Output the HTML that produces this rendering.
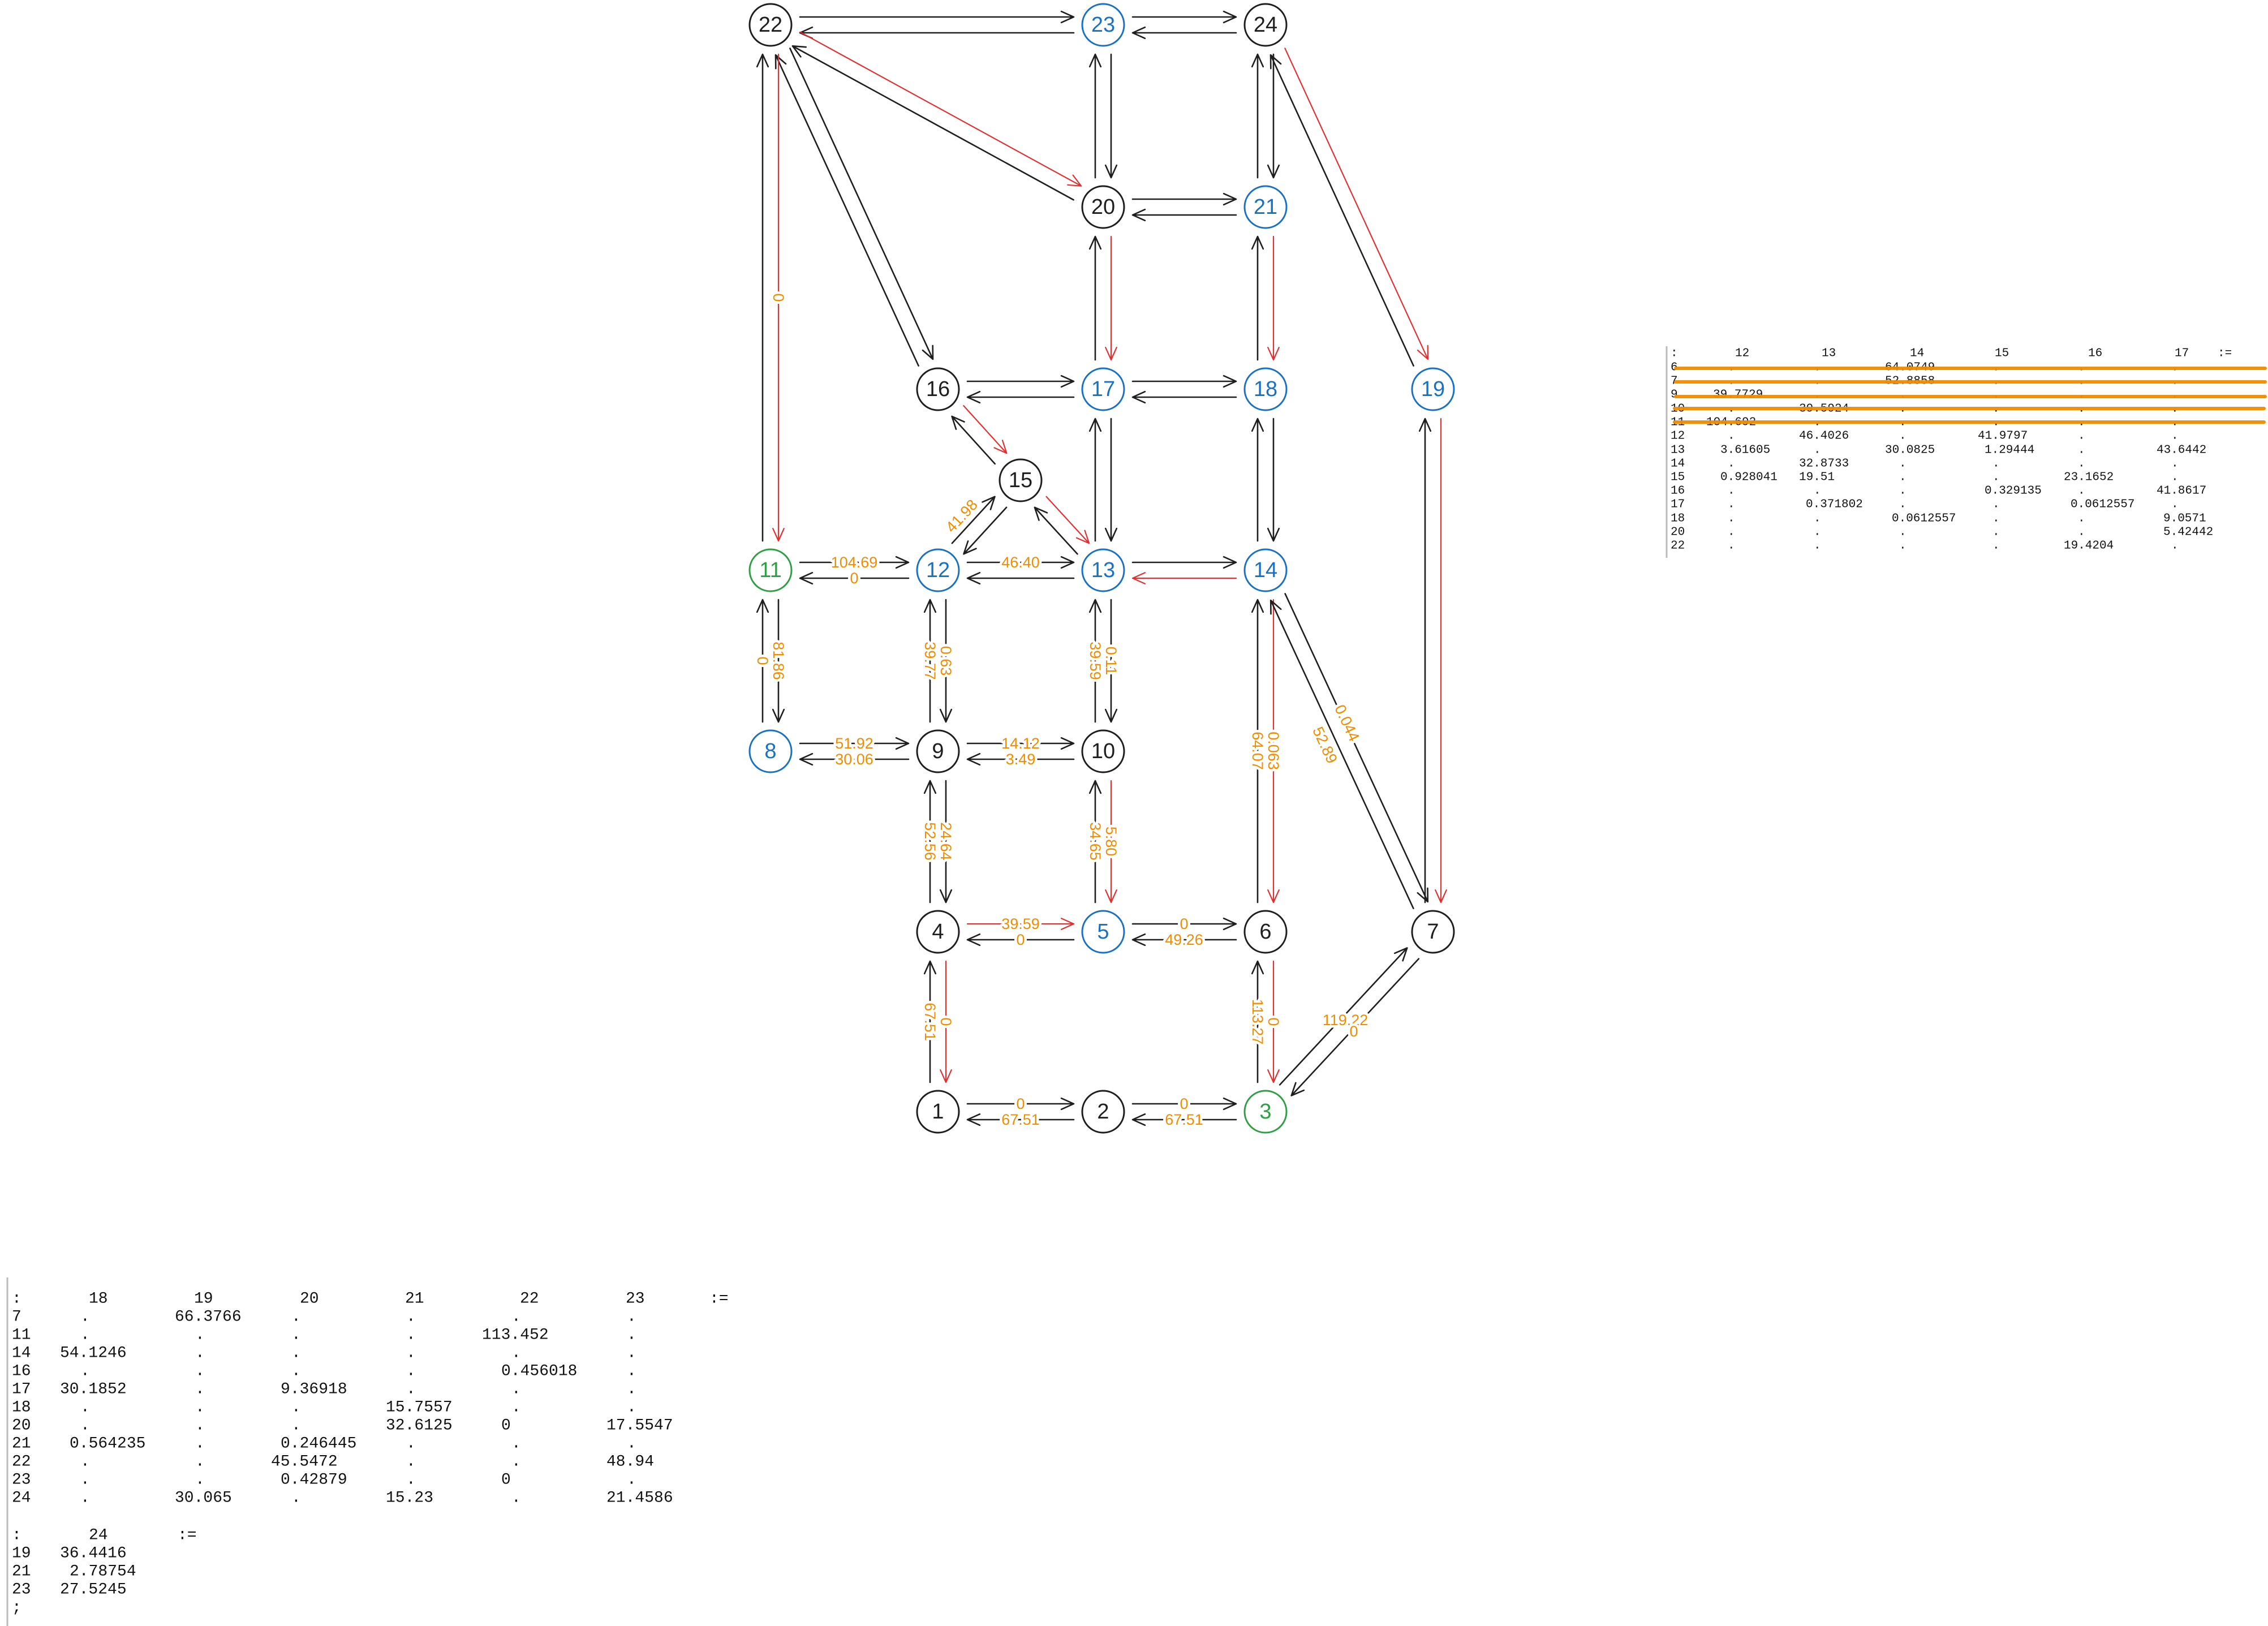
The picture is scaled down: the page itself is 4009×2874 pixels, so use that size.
<!DOCTYPE html>
<html><head><meta charset="utf-8">
<style>
html,body{margin:0;padding:0;background:#fff;}
svg{display:block;}
.nl{font-family:"Liberation Sans",sans-serif;font-size:38px;text-anchor:middle;dominant-baseline:central;}
.el{font-family:"Liberation Sans",sans-serif;font-size:27px;fill:#f08c00;text-anchor:middle;dominant-baseline:central;stroke:#fff;stroke-width:9px;paint-order:stroke;stroke-linejoin:round;}
.t1{font-family:"Liberation Mono","DejaVu Sans Mono",monospace;font-size:21px;fill:#111;dominant-baseline:central;}
.t2{font-family:"Liberation Mono","DejaVu Sans Mono",monospace;font-size:28px;fill:#111;dominant-baseline:central;}
</style></head>
<body>
<svg id="s" width="4009" height="2874" viewBox="0 0 4009 2874" xmlns="http://www.w3.org/2000/svg">
<g id="edges" fill="none" stroke-linecap="round"></g>

<!-- nodes -->
<g stroke-width="3" fill="#fff">
<circle cx="1362" cy="44" r="37" stroke="#1e1e1e"/>
<circle cx="1950" cy="44" r="37" stroke="#1971c2"/>
<circle cx="2237" cy="44" r="37" stroke="#1e1e1e"/>
<circle cx="1950" cy="366" r="37" stroke="#1e1e1e"/>
<circle cx="2237" cy="366" r="37" stroke="#1971c2"/>
<circle cx="1658" cy="688" r="37" stroke="#1e1e1e"/>
<circle cx="1950" cy="688" r="37" stroke="#1971c2"/>
<circle cx="2237" cy="688" r="37" stroke="#1971c2"/>
<circle cx="2533" cy="688" r="37" stroke="#1971c2"/>
<circle cx="1804" cy="849" r="37" stroke="#1e1e1e"/>
<circle cx="1362" cy="1008" r="37" stroke="#2f9e44"/>
<circle cx="1658" cy="1008" r="37" stroke="#1971c2"/>
<circle cx="1950" cy="1008" r="37" stroke="#1971c2"/>
<circle cx="2237" cy="1008" r="37" stroke="#1971c2"/>
<circle cx="1362" cy="1328" r="37" stroke="#1971c2"/>
<circle cx="1658" cy="1328" r="37" stroke="#1e1e1e"/>
<circle cx="1950" cy="1328" r="37" stroke="#1e1e1e"/>
<circle cx="1658" cy="1647" r="37" stroke="#1e1e1e"/>
<circle cx="1950" cy="1647" r="37" stroke="#1971c2"/>
<circle cx="2237" cy="1647" r="37" stroke="#1e1e1e"/>
<circle cx="2533" cy="1647" r="37" stroke="#1e1e1e"/>
<circle cx="1658" cy="1965" r="37" stroke="#1e1e1e"/>
<circle cx="1950" cy="1965" r="37" stroke="#1e1e1e"/>
<circle cx="2237" cy="1965" r="37" stroke="#2f9e44"/>
</g>
<g class="nl">
<text x="1362" y="44" fill="#1e1e1e">22</text>
<text x="1950" y="44" fill="#1971c2">23</text>
<text x="2237" y="44" fill="#1e1e1e">24</text>
<text x="1950" y="366" fill="#1e1e1e">20</text>
<text x="2237" y="366" fill="#1971c2">21</text>
<text x="1658" y="688" fill="#1e1e1e">16</text>
<text x="1950" y="688" fill="#1971c2">17</text>
<text x="2237" y="688" fill="#1971c2">18</text>
<text x="2533" y="688" fill="#1971c2">19</text>
<text x="1804" y="849" fill="#1e1e1e">15</text>
<text x="1362" y="1008" fill="#2f9e44">11</text>
<text x="1658" y="1008" fill="#1971c2">12</text>
<text x="1950" y="1008" fill="#1971c2">13</text>
<text x="2237" y="1008" fill="#1971c2">14</text>
<text x="1362" y="1328" fill="#1971c2">8</text>
<text x="1658" y="1328" fill="#1e1e1e">9</text>
<text x="1950" y="1328" fill="#1e1e1e">10</text>
<text x="1658" y="1647" fill="#1e1e1e">4</text>
<text x="1950" y="1647" fill="#1971c2">5</text>
<text x="2237" y="1647" fill="#1e1e1e">6</text>
<text x="2533" y="1647" fill="#1e1e1e">7</text>
<text x="1658" y="1965" fill="#1e1e1e">1</text>
<text x="1950" y="1965" fill="#1e1e1e">2</text>
<text x="2237" y="1965" fill="#2f9e44">3</text>
</g>

<!-- edge labels -->
<g class="el">
<text x="1510" y="994">104.69</text>
<text x="1510" y="1022">0</text>
<text x="1804" y="994">46.40</text>
<text x="1510" y="1314">51.92</text>
<text x="1510" y="1342">30.06</text>
<text x="1804" y="1314">14.12</text>
<text x="1804" y="1342">3.49</text>
<text x="1804" y="1633">39.59</text>
<text x="1804" y="1661">0</text>
<text x="2093" y="1633">0</text>
<text x="2093" y="1661">49.26</text>
<text x="1804" y="1951">0</text>
<text x="1804" y="1979">67.51</text>
<text x="2093" y="1951">0</text>
<text x="2093" y="1979">67.51</text>
<text transform="translate(1376,1168) rotate(90)">81.86</text>
<text transform="translate(1348,1168) rotate(90)">0</text>
<text transform="translate(1672,1168) rotate(90)">0.63</text>
<text transform="translate(1644,1168) rotate(90)">39.77</text>
<text transform="translate(1964,1168) rotate(90)">0.11</text>
<text transform="translate(1936,1168) rotate(90)">39.59</text>
<text transform="translate(1672,1487) rotate(90)">24.64</text>
<text transform="translate(1644,1487) rotate(90)">52.56</text>
<text transform="translate(1964,1487) rotate(90)">5.80</text>
<text transform="translate(1936,1487) rotate(90)">34.65</text>
<text transform="translate(1672,1806) rotate(90)">0</text>
<text transform="translate(1644,1806) rotate(90)">67.51</text>
<text transform="translate(2251,1806) rotate(90)">0</text>
<text transform="translate(2223,1806) rotate(90)">113.27</text>
<text transform="translate(2251,1327) rotate(90)">0.063</text>
<text transform="translate(2223,1327) rotate(90)">64.07</text>
<text transform="translate(1376,526) rotate(90)">0</text>
<text transform="translate(1700,912) rotate(-47)">41.98</text>
<text transform="translate(2381,1278) rotate(65)">0.044</text>
<text transform="translate(2342,1317) rotate(65)">52.89</text>
<text x="2378" y="1803">119.22</text>
<text x="2393" y="1823">0</text>
</g>

<!-- right table -->
<line x1="2946" y1="612" x2="2946" y2="986" stroke="#bbb" stroke-width="3"/>
<g class="t1">
<text x="2953" y="625">:</text><text x="3067" y="625">12</text><text x="3220" y="625">13</text><text x="3376" y="625">14</text><text x="3526" y="625">15</text><text x="3691" y="625">16</text><text x="3844" y="625">17</text><text x="3920" y="625">:=</text>
<text x="2953" y="650">6</text><text x="3054" y="650">.</text><text x="3206" y="650">.</text><text x="3332" y="650">64.0749</text><text x="3522" y="650">.</text><text x="3673" y="650">.</text><text x="3838" y="650">.</text>
<text x="2953" y="674">7</text><text x="3054" y="674">.</text><text x="3206" y="674">.</text><text x="3332" y="674">52.8858</text><text x="3522" y="674">.</text><text x="3673" y="674">.</text><text x="3838" y="674">.</text>
<text x="2953" y="698">9</text><text x="3028" y="698">39.7729</text><text x="3206" y="698">.</text><text x="3357" y="698">.</text><text x="3522" y="698">.</text><text x="3673" y="698">.</text><text x="3838" y="698">.</text>
<text x="2953" y="723">10</text><text x="3054" y="723">.</text><text x="3180" y="723">39.5924</text><text x="3357" y="723">.</text><text x="3522" y="723">.</text><text x="3673" y="723">.</text><text x="3838" y="723">.</text>
<text x="2953" y="747">11</text><text x="3016" y="747">104.692</text><text x="3206" y="747">.</text><text x="3357" y="747">.</text><text x="3522" y="747">.</text><text x="3673" y="747">.</text><text x="3838" y="747">.</text>
<text x="2953" y="771">12</text><text x="3054" y="771">.</text><text x="3180" y="771">46.4026</text><text x="3357" y="771">.</text><text x="3496" y="771">41.9797</text><text x="3673" y="771">.</text><text x="3838" y="771">.</text>
<text x="2953" y="796">13</text><text x="3041" y="796">3.61605</text><text x="3206" y="796">.</text><text x="3332" y="796">30.0825</text><text x="3508" y="796">1.29444</text><text x="3673" y="796">.</text><text x="3812" y="796">43.6442</text>
<text x="2953" y="820">14</text><text x="3054" y="820">.</text><text x="3180" y="820">32.8733</text><text x="3357" y="820">.</text><text x="3522" y="820">.</text><text x="3673" y="820">.</text><text x="3838" y="820">.</text>
<text x="2953" y="844">15</text><text x="3041" y="844">0.928041</text><text x="3180" y="844">19.51</text><text x="3357" y="844">.</text><text x="3522" y="844">.</text><text x="3648" y="844">23.1652</text><text x="3838" y="844">.</text>
<text x="2953" y="868">16</text><text x="3054" y="868">.</text><text x="3206" y="868">.</text><text x="3357" y="868">.</text><text x="3508" y="868">0.329135</text><text x="3673" y="868">.</text><text x="3812" y="868">41.8617</text>
<text x="2953" y="892">17</text><text x="3054" y="892">.</text><text x="3192" y="892">0.371802</text><text x="3357" y="892">.</text><text x="3522" y="892">.</text><text x="3660" y="892">0.0612557</text><text x="3838" y="892">.</text>
<text x="2953" y="917">18</text><text x="3054" y="917">.</text><text x="3206" y="917">.</text><text x="3344" y="917">0.0612557</text><text x="3522" y="917">.</text><text x="3673" y="917">.</text><text x="3824" y="917">9.0571</text>
<text x="2953" y="941">20</text><text x="3054" y="941">.</text><text x="3206" y="941">.</text><text x="3357" y="941">.</text><text x="3522" y="941">.</text><text x="3673" y="941">.</text><text x="3824" y="941">5.42442</text>
<text x="2953" y="965">22</text><text x="3054" y="965">.</text><text x="3206" y="965">.</text><text x="3357" y="965">.</text><text x="3522" y="965">.</text><text x="3648" y="965">19.4204</text><text x="3838" y="965">.</text>
</g>
<g stroke="#f08c00" stroke-width="6" stroke-linecap="round" opacity="0.95">
<line x1="2962" y1="651" x2="4004" y2="651"/>
<line x1="2962" y1="675" x2="4004" y2="675"/>
<line x1="2962" y1="701" x2="4004" y2="701"/>
<line x1="2960" y1="722" x2="4002" y2="722"/>
<line x1="2960" y1="746" x2="4002" y2="746"/>
</g>

<!-- bottom table -->
<line x1="13" y1="2258" x2="13" y2="2874" stroke="#bbb" stroke-width="3"/>
<g class="t2">
<text x="21" y="2296">:</text><text x="157" y="2296">18</text><text x="343" y="2296">19</text><text x="530" y="2296">20</text><text x="716" y="2296">21</text><text x="919" y="2296">22</text><text x="1106" y="2296">23</text><text x="1254" y="2296">:=</text>
<text x="21" y="2328">7</text><text x="142" y="2328">.</text><text x="309" y="2328">66.3766</text><text x="515" y="2328">.</text><text x="718" y="2328">.</text><text x="904" y="2328">.</text><text x="1108" y="2328">.</text>
<text x="21" y="2360">11</text><text x="142" y="2360">.</text><text x="345" y="2360">.</text><text x="515" y="2360">.</text><text x="718" y="2360">.</text><text x="852" y="2360">113.452</text><text x="1108" y="2360">.</text>
<text x="21" y="2392">14</text><text x="106" y="2392">54.1246</text><text x="345" y="2392">.</text><text x="515" y="2392">.</text><text x="718" y="2392">.</text><text x="904" y="2392">.</text><text x="1108" y="2392">.</text>
<text x="21" y="2424">16</text><text x="142" y="2424">.</text><text x="345" y="2424">.</text><text x="515" y="2424">.</text><text x="718" y="2424">.</text><text x="886" y="2424">0.456018</text><text x="1108" y="2424">.</text>
<text x="21" y="2456">17</text><text x="106" y="2456">30.1852</text><text x="345" y="2456">.</text><text x="496" y="2456">9.36918</text><text x="718" y="2456">.</text><text x="904" y="2456">.</text><text x="1108" y="2456">.</text>
<text x="21" y="2488">18</text><text x="142" y="2488">.</text><text x="345" y="2488">.</text><text x="515" y="2488">.</text><text x="682" y="2488">15.7557</text><text x="904" y="2488">.</text><text x="1108" y="2488">.</text>
<text x="21" y="2520">20</text><text x="142" y="2520">.</text><text x="345" y="2520">.</text><text x="515" y="2520">.</text><text x="682" y="2520">32.6125</text><text x="886" y="2520">0</text><text x="1072" y="2520">17.5547</text>
<text x="21" y="2552">21</text><text x="123" y="2552">0.564235</text><text x="345" y="2552">.</text><text x="496" y="2552">0.246445</text><text x="718" y="2552">.</text><text x="904" y="2552">.</text><text x="1108" y="2552">.</text>
<text x="21" y="2584">22</text><text x="142" y="2584">.</text><text x="345" y="2584">.</text><text x="479" y="2584">45.5472</text><text x="718" y="2584">.</text><text x="904" y="2584">.</text><text x="1072" y="2584">48.94</text>
<text x="21" y="2616">23</text><text x="142" y="2616">.</text><text x="345" y="2616">.</text><text x="496" y="2616">0.42879</text><text x="718" y="2616">.</text><text x="886" y="2616">0</text><text x="1108" y="2616">.</text>
<text x="21" y="2648">24</text><text x="142" y="2648">.</text><text x="309" y="2648">30.065</text><text x="515" y="2648">.</text><text x="682" y="2648">15.23</text><text x="904" y="2648">.</text><text x="1072" y="2648">21.4586</text>
<text x="21" y="2714">:</text><text x="157" y="2714">24</text><text x="314" y="2714">:=</text>
<text x="21" y="2746">19</text><text x="106" y="2746">36.4416</text>
<text x="21" y="2778">21</text><text x="123" y="2778">2.78754</text>
<text x="21" y="2810">23</text><text x="106" y="2810">27.5245</text>
<text x="21" y="2842">;</text>
</g>
</svg>
<script>
(function(){
var N={22:[1362,44],23:[1950,44],24:[2237,44],20:[1950,366],21:[2237,366],16:[1658,688],17:[1950,688],18:[2237,688],19:[2533,688],15:[1804,849],11:[1362,1008],12:[1658,1008],13:[1950,1008],14:[2237,1008],8:[1362,1328],9:[1658,1328],10:[1950,1328],4:[1658,1647],5:[1950,1647],6:[2237,1647],7:[2533,1647],1:[1658,1965],2:[1950,1965],3:[2237,1965]};
var R=[[22,20],[22,11],[24,19],[20,17],[21,18],[16,15],[15,13],[19,7],[14,13],[14,6],[10,5],[4,5],[4,1],[6,3]];
var P=[[22,23],[23,24],[23,20],[24,21],[20,21],[22,20],[22,16],[22,11],[24,19],[20,17],[21,18],[16,17],[17,18],[16,15],[15,13],[12,15],[17,13],[18,14],[19,7],[11,12],[12,13],[13,14],[11,8],[12,9],[13,10],[14,6],[14,7],[8,9],[9,10],[9,4],[10,5],[4,5],[5,6],[4,1],[6,3],[3,7],[1,2],[2,3]];
function isRed(a,b){for(var i=0;i<R.length;i++)if(R[i][0]==a&&R[i][1]==b)return true;return false;}
var g=document.getElementById('edges'),ns='http://www.w3.org/2000/svg',h='';
function arrow(a,b){
 var A=N[a],B=N[b],dx=B[0]-A[0],dy=B[1]-A[1],L=Math.sqrt(dx*dx+dy*dy);dx/=L;dy/=L;
 var ox=dy*14,oy=-dx*14,gp=52;
 var x1=A[0]+dx*gp+ox,y1=A[1]+dy*gp+oy,x2=B[0]-dx*gp+ox,y2=B[1]-dy*gp+oy;
 var c=isRed(a,b)?'#e03131':'#1e1e1e',w=isRed(a,b)?2.2:2.6;
 var ang=Math.atan2(dy,dx),al=24,aa=0.42;
 var p1x=x2-al*Math.cos(ang-aa),p1y=y2-al*Math.sin(ang-aa),p2x=x2-al*Math.cos(ang+aa),p2y=y2-al*Math.sin(ang+aa);
 h+='<path d="M'+x1.toFixed(1)+' '+y1.toFixed(1)+'L'+x2.toFixed(1)+' '+y2.toFixed(1)+'M'+p1x.toFixed(1)+' '+p1y.toFixed(1)+'L'+x2.toFixed(1)+' '+y2.toFixed(1)+'L'+p2x.toFixed(1)+' '+p2y.toFixed(1)+'" stroke="'+c+'" stroke-width="'+w+'" stroke-linejoin="round"/>';
}
for(var i=0;i<P.length;i++){arrow(P[i][0],P[i][1]);arrow(P[i][1],P[i][0]);}
g.innerHTML=h;
})();
</script>
</body></html>
